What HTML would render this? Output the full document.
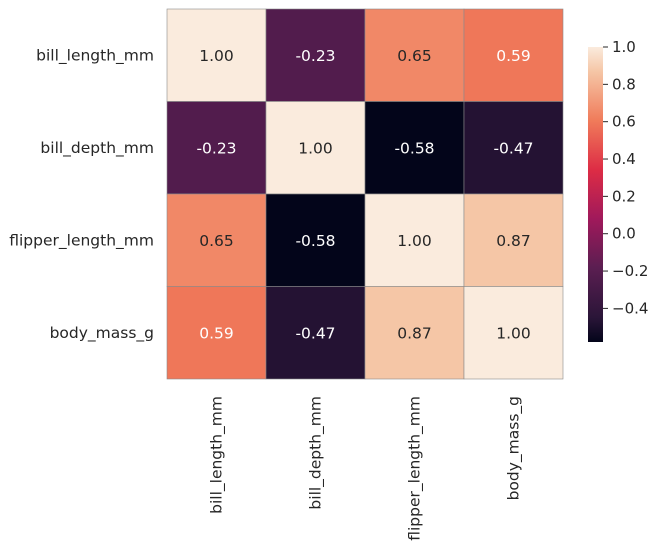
<!DOCTYPE html>
<html><head><meta charset="utf-8"><style>
html,body{margin:0;padding:0;background:#fff;}
svg text{font-family:"DejaVu Sans","Liberation Sans",sans-serif;}
</style></head><body>
<svg id="chart" width="663" height="546" viewBox="0 0 663 546">
<defs>
<linearGradient id="rocket" x1="0" y1="1" x2="0" y2="0">
<stop offset="0" stop-color="#03051a"/><stop offset="0.083" stop-color="#2a1538"/>
<stop offset="0.25" stop-color="#5a1e51"/><stop offset="0.417" stop-color="#a0195b"/>
<stop offset="0.583" stop-color="#dd2c45"/><stop offset="0.75" stop-color="#f07b5a"/>
<stop offset="0.917" stop-color="#f5c6a6"/><stop offset="1" stop-color="#faebdd"/>
</linearGradient>
</defs>
<g id="cells"></g>
<g id="labels"></g>
<rect x="588" y="47" width="15" height="295" fill="url(#rocket)"/>
<g id="cbticks"></g>
</svg>
<script>
const categories = ["bill_length_mm","bill_depth_mm","flipper_length_mm","body_mass_g"];
const row0 = [1.00,-0.23,0.65,0.59];
const row1 = [-0.23,1.00,-0.58,-0.47];
const row2 = [0.65,-0.58,1.00,0.87];
const row3 = [0.59,-0.47,0.87,1.00];
const matrix = [row0,row1,row2,row3];
const cbTicks = [1.0,0.8,0.6,0.4,0.2,0.0,-0.2,-0.4];
const vmin = -0.58, vmax = 1.0;

const NS="http://www.w3.org/2000/svg";
const X0=167,Y0=9,W=396,H=370;
const n=categories.length, cw=W/n, ch=H/n;
const xS=i=>X0+i*cw, yS=i=>Y0+i*ch;
const cbTop=47,cbBot=342;
const cbY=v=>cbBot-(v-vmin)/(vmax-vmin)*(cbBot-cbTop);
const stops=[[0,[3,5,26]],[0.083,[42,21,56]],[0.25,[90,30,81]],[0.417,[160,25,91]],[0.583,[221,44,69]],[0.75,[240,123,90]],[0.917,[245,198,166]],[1,[250,235,221]]];
function color(v){let t=Math.max(0,Math.min(1,(v-vmin)/(vmax-vmin)));
 for(let k=1;k<stops.length;k++){if(t<=stops[k][0]){const [a,ca]=stops[k-1],[b,cb]=stops[k];const f=(t-a)/(b-a);
  return ca.map((x,j)=>Math.round(x+(cb[j]-x)*f));}} return stops[stops.length-1][1];}
function mk(tag,attrs,parent){const e=document.createElementNS(NS,tag);for(const k in attrs)e.setAttribute(k,attrs[k]);parent.appendChild(e);return e;}
const cells=document.getElementById('cells'),labels=document.getElementById('labels'),cbt=document.getElementById('cbticks');
matrix.forEach((row,r)=>row.forEach((v,c)=>{
 const col=color(v);
 const rect=mk('rect',{x:xS(c),y:yS(r),width:cw,height:ch,fill:`rgb(${col})`,stroke:'#8a8a8a','stroke-width':0.6},cells);
 
 
 const lum=(0.299*col[0]+0.587*col[1]+0.114*col[2]);
 const t=mk('text',{x:xS(c)+cw/2,y:yS(r)+ch/2+5.5,'text-anchor':'middle','font-size':15.5,fill:lum>160?'#262626':'#ffffff'},cells);
 t.textContent=v.toFixed(2);
 
 
}));
categories.forEach((name,i)=>{
 const t=mk('text',{x:154,y:yS(i)+ch/2+5,'text-anchor':'end','font-size':15.5,fill:'#262626'},labels);
 t.textContent=name;
 
 
 const cx=xS(i)+cw/2+5;
 const u=mk('text',{x:cx,y:396,'text-anchor':'end','font-size':15.5,fill:'#262626',transform:`rotate(-90 ${cx} 396)`},labels);
 u.textContent=name;
 
 
});
cbTicks.forEach(v=>{
 const y=cbY(v);
 const l=mk('line',{x1:603,x2:608,y1:y,y2:y,stroke:'#262626','stroke-width':1},cbt);
 
 
 const t=mk('text',{x:612,y:y+5,'font-size':15,fill:'#262626'},cbt);
 t.textContent=(v<0?'\u2212':'')+Math.abs(v).toFixed(1);
 
 
});
</script>
</body></html>
